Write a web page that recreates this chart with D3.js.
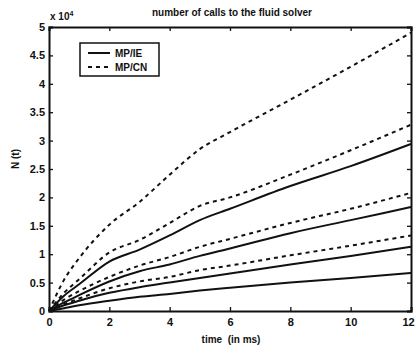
<!DOCTYPE html>
<html>
<head>
<meta charset="utf-8">
<script src="https://cdn.jsdelivr.net/npm/d3@7"></script>
<style>
  html, body { margin: 0; padding: 0; background: #fff; }
  svg { display: block; font-family: "Liberation Sans", Arial, sans-serif; }
</style>
</head>
<body>
<svg id="chart" width="415" height="348"></svg>
<script>
// Sample times (ms)
const times = [0, 0.5, 1, 2, 3, 4, 5, 6, 8, 10, 12];

// Number of fluid solver calls, in units of 1e4
const ieRuns = [
  [0, 0.27, 0.47, 0.87, 1.08, 1.33, 1.60, 1.80, 2.20, 2.55, 2.94],
  [0, 0.15, 0.28, 0.52, 0.70, 0.82, 0.97, 1.10, 1.37, 1.60, 1.83],
  [0, 0.10, 0.18, 0.32, 0.42, 0.50, 0.58, 0.66, 0.82, 0.97, 1.13],
  [0, 0.05, 0.10, 0.18, 0.25, 0.30, 0.36, 0.41, 0.50, 0.58, 0.67]
];
const cnRuns = [
  [0, 0.55, 0.93, 1.52, 1.92, 2.40, 2.85, 3.15, 3.72, 4.30, 4.90],
  [0, 0.32, 0.56, 1.03, 1.25, 1.55, 1.85, 2.00, 2.40, 2.83, 3.28],
  [0, 0.20, 0.35, 0.60, 0.80, 0.95, 1.13, 1.27, 1.55, 1.80, 2.08],
  [0, 0.12, 0.22, 0.40, 0.52, 0.60, 0.72, 0.80, 0.98, 1.15, 1.33]
];

const xTicks = [0, 2, 4, 6, 8, 10, 12];
const yTicks = [0, 0.5, 1, 1.5, 2, 2.5, 3, 3.5, 4, 4.5, 5];
const legendLabels = ["MP/IE", "MP/CN"];

const svg = d3.select("#chart");
const plotL = 49, plotR = 411, plotT = 27, plotB = 311;

const x = d3.scaleLinear().domain([0, 12]).range([plotL, plotR]);
const y = d3.scaleLinear().domain([0, 5]).range([plotB, plotT]);

const ink = "#111";

// Curves
const line = d3.line()
  .x(d => x(d[0]))
  .y(d => y(d[1]))
  .curve(d3.curveMonotoneX);

const g = svg.append("g");
ieRuns.forEach(run => {
  g.append("path")
    .datum(times.map((t, i) => [t, run[i]]))
    .attr("d", line)
    .attr("fill", "none")
    .attr("stroke", ink)
    .attr("stroke-width", 2);
});
cnRuns.forEach(run => {
  g.append("path")
    .datum(times.map((t, i) => [t, run[i]]))
    .attr("d", line)
    .attr("fill", "none")
    .attr("stroke", ink)
    .attr("stroke-width", 2)
    .attr("stroke-dasharray", "4,4");
});

// Axes: ticks point inward, box drawn on all four sides
const tickLen = 4;
const axB = svg.append("g").attr("transform", `translate(0,${plotB})`)
  .call(d3.axisBottom(x).tickValues(xTicks).tickSize(-tickLen).tickPadding(7)
    .tickFormat(d3.format("d")));
const axL = svg.append("g").attr("transform", `translate(${plotL},0)`)
  .call(d3.axisLeft(y).tickValues(yTicks).tickSize(-tickLen).tickPadding(4)
    .tickFormat(d => d3.format("~g")(d)));
const axT = svg.append("g").attr("transform", `translate(0,${plotT})`)
  .call(d3.axisTop(x).tickValues(xTicks).tickSize(-tickLen).tickFormat(""));
const axR = svg.append("g").attr("transform", `translate(${plotR},0)`)
  .call(d3.axisRight(y).tickValues(yTicks).tickSize(-tickLen).tickFormat(""));

[axB, axL, axT, axR].forEach(a => {
  a.select(".domain").attr("stroke", ink).attr("stroke-width", 2);
  a.selectAll(".tick line").attr("stroke", ink).attr("stroke-width", 1.3);
  a.selectAll("text")
    .attr("fill", ink)
    .style("font-size", "11px")
    .style("font-weight", "bold");
});
// keep the last x label inside the frame edge
axB.selectAll(".tick text").filter(d => d === 12).attr("dx", -3);

// Exponent label
const expo = svg.append("text")
  .attr("x", 50).attr("y", 20)
  .attr("fill", ink)
  .style("font-size", "10px")
  .style("font-weight", "bold");
expo.append("tspan").text("x 10");
expo.append("tspan").attr("dy", -4).style("font-size", "7px").text("4");

// Title
svg.append("text")
  .attr("x", 232).attr("y", 16)
  .attr("text-anchor", "middle")
  .attr("fill", ink)
  .style("font-size", "10px")
  .style("font-weight", "bold")
  .text("number of calls to the fluid solver");

// Axis labels
svg.append("text")
  .attr("x", 231).attr("y", 343)
  .attr("text-anchor", "middle")
  .attr("fill", ink)
  .style("font-size", "10px")
  .style("font-weight", "bold")
  .attr("xml:space", "preserve")
  .text("time  (in ms)");

svg.append("text")
  .attr("transform", `translate(19,159) rotate(-90)`)
  .attr("text-anchor", "middle")
  .attr("fill", ink)
  .style("font-size", "10px")
  .style("font-weight", "bold")
  .text("N (t)");

// Legend
const lg = svg.append("g");
lg.append("rect")
  .attr("x", 80).attr("y", 43).attr("width", 79).attr("height", 33)
  .attr("fill", "#fff").attr("stroke", ink).attr("stroke-width", 1.5);
legendLabels.forEach((lab, i) => {
  const yy = 53 + i * 14;
  lg.append("line")
    .attr("x1", 88).attr("x2", 110).attr("y1", yy).attr("y2", yy)
    .attr("stroke", ink).attr("stroke-width", 2)
    .attr("stroke-dasharray", i === 1 ? "4,4" : null);
  lg.append("text")
    .attr("x", 115).attr("y", yy + 4)
    .attr("fill", ink)
    .style("font-size", "10px")
    .style("font-weight", "bold")
    .text(lab);
});
</script>
</body>
</html>
